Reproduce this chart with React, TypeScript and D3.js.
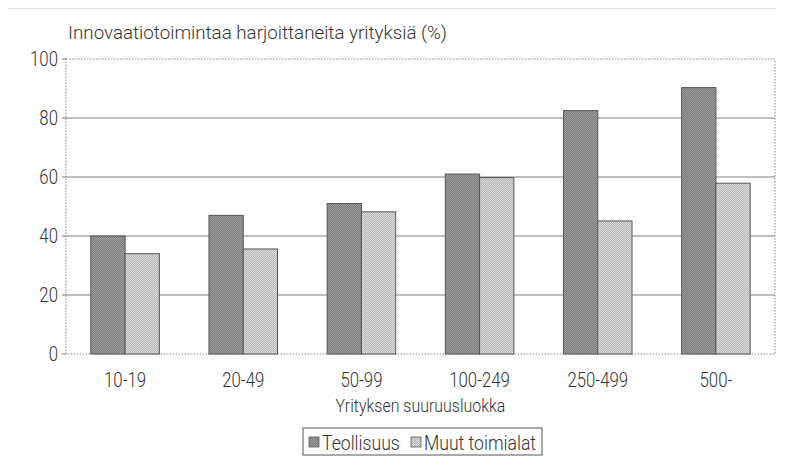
import React, { useEffect, useRef } from 'react';
import * as d3 from 'd3';

const categories = ['10-19', '20-49', '50-99', '100-249', '250-499', '500-'];
const seriesNames = ['Teollisuus', 'Muut toimialat'];
const teollisuus = [40, 47, 51, 61, 82.5, 90.3];
const muut = [34, 35.6, 48.2, 59.8, 45.1, 57.9];
const yTicks = [0, 20, 40, 60, 80, 100];

const FONT = "Roboto, 'Liberation Sans', sans-serif";
const SX = 0.84; // squeeze text horizontally, the original font is condensed

const App: React.FC = () => {
  const svgRef = useRef<SVGSVGElement>(null);

  useEffect(() => {
    if (!svgRef.current) return;
    const svg = d3.select(svgRef.current);
    svg.selectAll('*').remove();

    const W = 785, H = 468;
    const margin = { top: 59, right: 10, bottom: 114, left: 66 };
    const iw = W - margin.left - margin.right;
    const ih = H - margin.top - margin.bottom;

    // dotted fill patterns
    const defs = svg.append('defs');
    const pat = (id: string, a: string, b: string) => {
      const p = defs.append('pattern').attr('id', id).attr('width', 2).attr('height', 2)
        .attr('patternUnits', 'userSpaceOnUse');
      p.append('rect').attr('width', 2).attr('height', 2).attr('fill', b);
      p.append('rect').attr('width', 1).attr('height', 1).attr('fill', a);
      p.append('rect').attr('x', 1).attr('y', 1).attr('width', 1).attr('height', 1).attr('fill', a);
    };
    pat('darkPat', '#7a7a7a', '#a0a0a0');
    pat('lightPat', '#b4b4b4', '#dedede');
    const fills = ['url(#darkPat)', 'url(#lightPat)'];

    svg.append('rect').attr('width', W).attr('height', H).attr('fill', '#fff');

    // outer frame (top and left only)
    svg.append('line').attr('x1', 5).attr('x2', W).attr('y1', 7.5).attr('y2', 7.5)
      .attr('stroke', '#999').attr('stroke-width', 1.5);
    svg.append('line').attr('x1', 5.5).attr('x2', 5.5).attr('y1', 7).attr('y2', H)
      .attr('stroke', '#999').attr('stroke-width', 1.5);

    const g = svg.append('g').attr('transform', `translate(${margin.left},${margin.top})`);

    const x = d3.scaleBand().domain(categories).range([0, iw]).padding(0);
    const y = d3.scaleLinear().domain([0, 100]).range([ih, 0]);
    const barW = x.bandwidth() * 0.29;

    // gridlines
    g.selectAll('line.grid').data(yTicks.filter(t => t > 0 && t < 100)).enter()
      .append('line').attr('class', 'grid')
      .attr('x1', 0).attr('x2', iw).attr('y1', d => y(d)).attr('y2', d => y(d))
      .attr('stroke', '#808080').attr('stroke-width', 1);

    // dotted plot border
    g.append('rect').attr('x', 0).attr('y', 0).attr('width', iw).attr('height', ih)
      .attr('fill', 'none').attr('stroke', '#888').attr('stroke-width', 1)
      .attr('stroke-dasharray', '1.5,1.5');

    // y ticks
    g.selectAll('line.tick').data(yTicks).enter().append('line')
      .attr('x1', -4).attr('x2', 0).attr('y1', d => y(d)).attr('y2', d => y(d))
      .attr('stroke', '#777');
    g.selectAll('text.ytick').data(yTicks).enter().append('text')
      .attr('transform', d => `translate(-8,${y(d)}) scale(${SX},1)`)
      .attr('dy', '0.36em')
      .attr('text-anchor', 'end').style('font-family', FONT).style('font-weight', 300)
      .style('font-size', '20px').style('fill', '#333').text(d => d);

    // bars
    const data = [teollisuus, muut];
    data.forEach((vals, si) => {
      g.selectAll(`rect.s${si}`).data(categories).enter().append('rect')
        .attr('x', (c) => x(c)! + x.bandwidth() / 2 - barW + si * barW)
        .attr('y', (_c, i) => y(vals[i]))
        .attr('width', barW)
        .attr('height', (_c, i) => ih - y(vals[i]))
        .attr('fill', fills[si])
        .attr('stroke', '#555').attr('stroke-width', 1);
    });

    // category labels
    g.selectAll('text.cat').data(categories).enter().append('text')
      .attr('transform', c => `translate(${x(c)! + x.bandwidth() / 2},${ih + 33}) scale(${SX},1)`)
      .attr('text-anchor', 'middle').style('font-family', FONT).style('font-weight', 300)
      .style('font-size', '20px').style('fill', '#333').text(c => c);

    // x axis title
    g.append('text')
      .attr('transform', `translate(${iw / 2},${ih + 58}) scale(${SX},1)`)
      .attr('text-anchor', 'middle')
      .style('font-family', FONT).style('font-weight', 300).style('font-size', '19px')
      .style('fill', '#333').text('Yrityksen suuruusluokka');

    // y title
    svg.append('text').attr('x', 68).attr('y', 39)
      .attr('textLength', 379).attr('lengthAdjust', 'spacingAndGlyphs')
      .style('font-family', FONT).style('font-weight', 300).style('font-size', '19px')
      .style('fill', '#333').text('Innovaatiotoimintaa harjoittaneita yrityksiä (%)');

    // legend
    const lg = svg.append('g').attr('transform', 'translate(303,428)');
    const lw = 239, lh = 27;
    lg.append('rect').attr('width', lw).attr('height', lh).attr('fill', '#fff')
      .attr('stroke', '#555').attr('stroke-width', 1);
    const offsets = [6, 108];
    seriesNames.forEach((s, i) => {
      lg.append('rect').attr('x', offsets[i]).attr('y', 9).attr('width', 10).attr('height', 10)
        .attr('fill', fills[i]).attr('stroke', '#555').attr('stroke-width', 0.8);
      lg.append('text')
        .attr('transform', `translate(${offsets[i] + 13},${lh / 2 + 1}) scale(${SX},1)`)
        .attr('dy', '0.35em')
        .style('font-family', FONT).style('font-weight', 300).style('font-size', '21px')
        .style('fill', '#333').text(s);
    });
  }, []);

  return (
    <div style={{ margin: -8 }}>
      <svg ref={svgRef} width={785} height={468}></svg>
    </div>
  );
};

export default App;
